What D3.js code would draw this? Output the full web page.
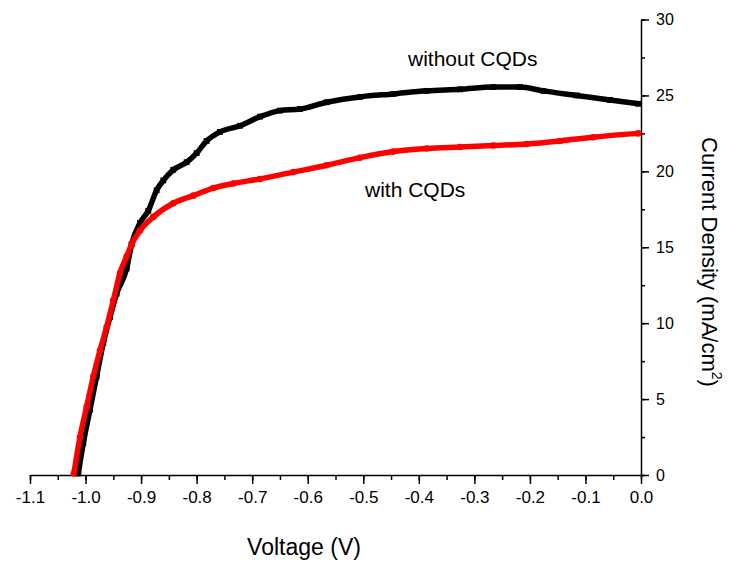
<!DOCTYPE html>
<html>
<head>
<meta charset="utf-8">
<script src="https://cdn.jsdelivr.net/npm/d3@7"></script>
<style>
  html, body { margin: 0; padding: 0; background: #fff; }
  svg text { font-family: "Liberation Sans", Arial, sans-serif; fill: #000; }
</style>
</head>
<body>
<svg id="chart" width="731" height="567"></svg>
<script>
// J–V curves (voltage in V, current density in mA/cm²)
const withoutV = [-1.013, -1.004, -0.992, -0.980, -0.968, -0.956, -0.944, -0.926, -0.917, -0.902, -0.887,
  -0.872, -0.860, -0.842, -0.818, -0.800, -0.782, -0.758, -0.722, -0.686, -0.650, -0.614, -0.566,
  -0.506, -0.446, -0.386, -0.326, -0.266, -0.218, -0.176, -0.116, -0.056, -0.005];
const withoutJ = [0.1, 2.1, 4.3, 6.5, 8.7, 10.4, 11.95, 13.6, 15.2, 16.6, 17.4,
  18.75, 19.4, 20.1, 20.6, 21.2, 22.0, 22.6, 23.0, 23.6, 24.0, 24.1, 24.55,
  24.9, 25.1, 25.3, 25.4, 25.55, 25.55, 25.3, 25.0, 24.7, 24.45];

const withV = [-1.021, -1.010, -0.998, -0.986, -0.974, -0.962, -0.950, -0.938, -0.926, -0.917, -0.902,
  -0.878, -0.842, -0.806, -0.770, -0.734, -0.686, -0.626, -0.566, -0.506, -0.446, -0.386,
  -0.326, -0.266, -0.206, -0.146, -0.086, -0.005];
const withJ = [0.1, 2.5, 4.5, 6.5, 8.2, 9.75, 11.5, 13.3, 14.4, 15.2, 16.1,
  17.0, 17.9, 18.4, 18.9, 19.2, 19.5, 19.95, 20.4, 20.9, 21.3, 21.5,
  21.6, 21.7, 21.8, 22.0, 22.25, 22.5];

const xTicks = [-1.1, -1.0, -0.9, -0.8, -0.7, -0.6, -0.5, -0.4, -0.3, -0.2, -0.1, 0.0];
const yTicks = [0, 5, 10, 15, 20, 25, 30];
const seriesLabels = ["without CQDs", "with CQDs"];

const svg = d3.select("#chart");
const x = d3.scaleLinear().domain([-1.1, 0]).range([30, 641]);
const y = d3.scaleLinear().domain([0, 30]).range([475, 19.5]);

const xMinor = d3.range(0, 23).map(i => -1.1 + i * 0.05);
const yMinor = d3.range(0, 13).map(i => i * 2.5);

// minor ticks
svg.append("g").attr("transform", "translate(0,475)")
  .call(d3.axisBottom(x).tickValues(xMinor).tickSize(5).tickFormat(""))
  .call(g => g.select(".domain").remove())
  .call(g => g.selectAll("line").attr("stroke", "#000").attr("stroke-width", 1.5));
svg.append("g").attr("transform", "translate(641,0)")
  .call(d3.axisRight(y).tickValues(yMinor).tickSize(4).tickFormat(""))
  .call(g => g.select(".domain").remove())
  .call(g => g.selectAll("line").attr("stroke", "#000").attr("stroke-width", 1.5));

// major axes
const xAxis = svg.append("g").attr("transform", "translate(0,475)")
  .call(d3.axisBottom(x).tickValues(xTicks).tickSize(9).tickSizeOuter(0)
    .tickFormat(d => d3.format(".1f")(d).replace("−", "-")));
const yAxis = svg.append("g").attr("transform", "translate(641,0)")
  .call(d3.axisRight(y).tickValues(yTicks).tickSize(8).tickSizeOuter(0));
[xAxis, yAxis].forEach(g => {
  g.select(".domain").attr("stroke", "#000").attr("stroke-width", 1.5);
  g.selectAll(".tick line").attr("stroke", "#000").attr("stroke-width", 1.5);
  g.selectAll(".tick text").attr("font-family", "Liberation Sans, Arial, sans-serif");
});
xAxis.selectAll(".tick text").attr("font-size", 17).attr("y", 16);
yAxis.selectAll(".tick text").attr("font-size", 16).attr("x", 15);

const line = d3.line().x(d => x(d[0])).y(d => y(d[1])).curve(d3.curveMonotoneX);

function drawSeries(vs, js, color, shape) {
  const pts = vs.map((v, i) => [v, js[i]]);
  svg.append("path").datum(pts)
    .attr("d", line).attr("fill", "none")
    .attr("stroke", color).attr("stroke-width", 5.5).attr("stroke-linejoin", "round");
  const sym = d3.symbol().type(shape).size(34);
  svg.append("g").selectAll("path").data(pts).join("path")
    .attr("transform", d => `translate(${x(d[0])},${y(d[1])})`)
    .attr("d", sym).attr("fill", color);
}
drawSeries(withoutV, withoutJ, "#000", d3.symbolSquare);
drawSeries(withV, withJ, "#ff0000", d3.symbolCircle);

// series labels
svg.append("text").attr("x", 408).attr("y", 66).attr("font-size", 21).text(seriesLabels[0]);
svg.append("text").attr("x", 365).attr("y", 197).attr("font-size", 21).text(seriesLabels[1]);

// axis titles
svg.append("text").attr("x", 304).attr("y", 555).attr("text-anchor", "middle")
  .attr("font-size", 23).text("Voltage (V)");
const yt = svg.append("text").attr("transform", "translate(702,262) rotate(90)")
  .attr("text-anchor", "middle").attr("font-size", 22);
yt.append("tspan").text("Current Density (mA/cm");
yt.append("tspan").attr("font-size", 14).attr("dy", -10).text("2");
yt.append("tspan").attr("dy", 10).text(")");
</script>
</body>
</html>
